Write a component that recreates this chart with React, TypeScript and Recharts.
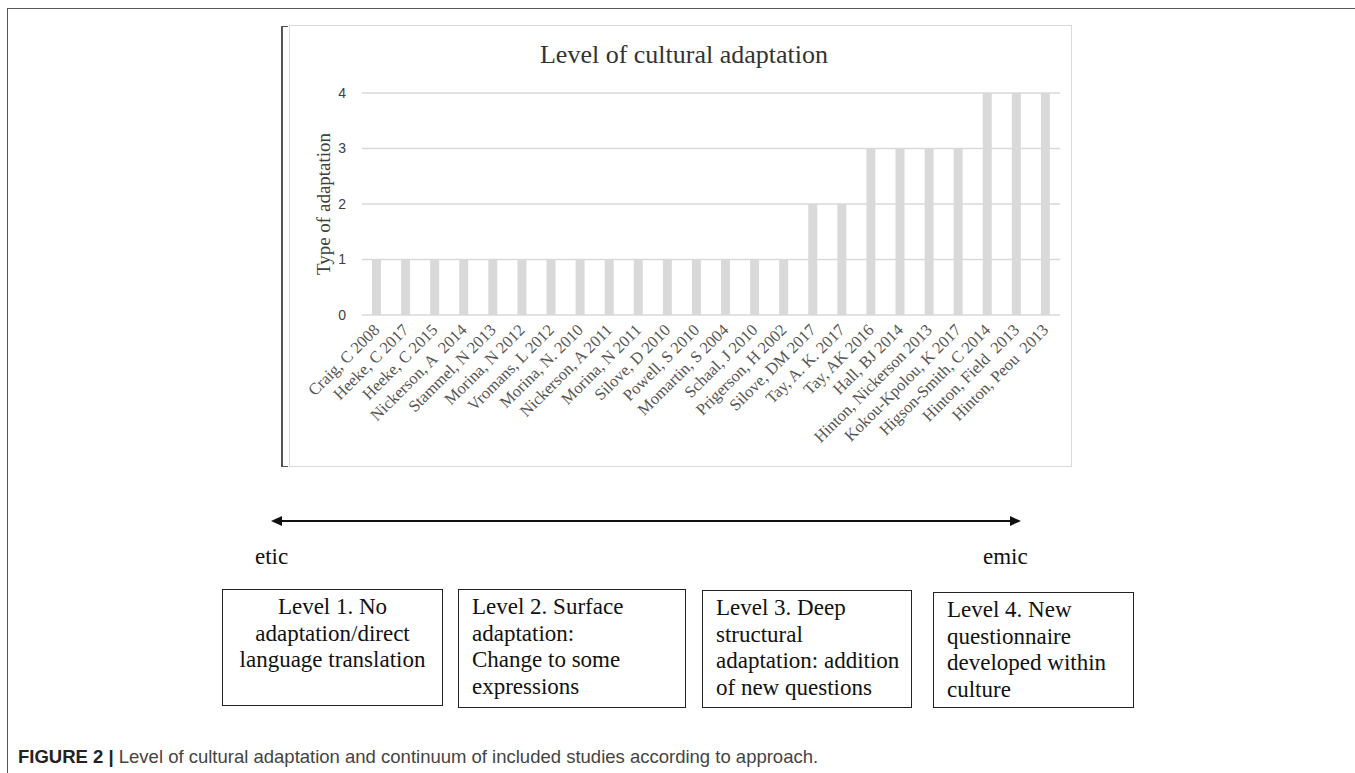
import { BarChart, Bar, XAxis, YAxis, CartesianGrid } from "recharts";

const studies = [
  "Craig, C 2008",
  "Heeke, C 2017",
  "Heeke, C 2015",
  "Nickerson, A\u00a0 2014",
  "Stammel, N 2013",
  "Morina, N 2012",
  "Vromans, L 2012",
  "Morina, N. 2010",
  "Nickerson, A 2011",
  "Morina, N 2011",
  "Silove, D 2010",
  "Powell, S 2010",
  "Momartin, S 2004",
  "Schaal, J 2010",
  "Prigerson, H 2002",
  "Silove, DM 2017",
  "Tay, A. K. 2017",
  "Tay, AK 2016",
  "Hall, BJ 2014",
  "Hinton, Nickerson 2013",
  "Kokou-Kpolou, K 2017",
  "Higson-Smith, C 2014",
  "Hinton, Field\u00a0 2013",
  "Hinton, Peou\u00a0 2013",
];

const adaptationType = [1, 1, 1, 1, 1, 1, 1, 1, 1, 1, 1, 1, 1, 1, 1, 2, 2, 3, 3, 3, 3, 4, 4, 4];

const yTicks = [0, 1, 2, 3, 4];

const levels = [
  { lines: ["Level 1. No", "adaptation/direct", "language translation"], align: "center" },
  { lines: ["Level 2. Surface", "adaptation:", "Change to some", "expressions"], align: "left" },
  { lines: ["Level 3. Deep", "structural", "adaptation: addition", "of new questions"], align: "left" },
  { lines: ["Level 4. New", "questionnaire", "developed within", "culture"], align: "left" },
];

const data = studies.map((name, i) => ({ name, value: adaptationType[i] }));

const serif = "'Liberation Serif', 'Times New Roman', serif";

// box placement on the page
const boxPos = [
  { left: 222, top: 589, width: 221, height: 117 },
  { left: 458, top: 589, width: 228, height: 119 },
  { left: 702, top: 590, width: 210, height: 118 },
  { left: 933, top: 592, width: 201, height: 116 },
];

const AngledTick = (props: any) => {
  const { x, y, payload } = props;
  return (
    <g transform={`translate(${x + 4},${y + 8})`}>
      <text textAnchor="end" transform="rotate(-45)" fontFamily={serif} fontSize={16.5} fill="#555">
        {payload.value}
      </text>
    </g>
  );
};

export default function App() {
  return (
    <div style={{ position: "absolute", left: 0, top: 0, width: 1355, height: 773, background: "#fff", overflow: "hidden" }}>
      {/* figure frame */}
      <div style={{ position: "absolute", left: 7, top: 8, width: 1348, height: 770, borderTop: "1px solid #555", borderLeft: "1px solid #555" }} />

      {/* bracket + chart border */}
      <div style={{ position: "absolute", left: 281, top: 26, width: 7, height: 441, borderLeft: "2px solid #555", borderTop: "1.5px solid #555", borderBottom: "1.5px solid #555", boxSizing: "border-box" }} />
      <div style={{ position: "absolute", left: 289, top: 25, width: 783, height: 442, border: "1px solid #d9d9d9", boxSizing: "border-box" }} />

      <div style={{ position: "absolute", left: 289, top: 25 }}>
        <BarChart width={783} height={442} data={data} margin={{ top: 68, right: 12, bottom: 0, left: 0 }}>
          <CartesianGrid vertical={false} stroke="#d9d9d9" strokeWidth={1.5} />
          <XAxis
            dataKey="name"
            interval={0}
            axisLine={false}
            tickLine={false}
            height={152}
            tick={<AngledTick />}
          />
          <YAxis
            domain={[0, 4]}
            ticks={yTicks}
            axisLine={false}
            tickLine={false}
            width={73}
            tickMargin={10}
            tick={{ fontFamily: "'Liberation Sans', Arial, sans-serif", fontSize: 14, fill: "#404040" }}
            label={{
              value: "Type of adaptation",
              angle: -90,
              position: "insideLeft",
              offset: 34,
              style: { textAnchor: "middle", fontFamily: serif, fontSize: 19, fill: "#404040" },
            }}
          />
          <Bar dataKey="value" fill="#d9d9d9" barSize={9} isAnimationActive={false} />
        </BarChart>
      </div>

      <div style={{ position: "absolute", left: 289, width: 790, top: 40, textAlign: "center", fontFamily: serif, fontSize: 26, color: "#333" }}>
        Level of cultural adaptation
      </div>

      {/* etic / emic continuum */}
      <svg style={{ position: "absolute", left: 0, top: 0 }} width={1355} height={773}>
        <line x1={280} y1={521} x2={1012} y2={521} stroke="#111" strokeWidth={2} />
        <polygon points="271,521 282,516 282,526" fill="#111" />
        <polygon points="1021,521 1010,516 1010,526" fill="#111" />
      </svg>
      <div style={{ position: "absolute", left: 255, top: 544, fontFamily: serif, fontSize: 23, color: "#111" }}>etic</div>
      <div style={{ position: "absolute", left: 983, top: 544, fontFamily: serif, fontSize: 23, color: "#111" }}>emic</div>

      {levels.map((lv, i) => (
        <div
          key={i}
          style={{
            position: "absolute",
            ...boxPos[i],
            border: "1.5px solid #222",
            boxSizing: "border-box",
            padding: i === 0 ? "4px 4px" : "4px 13px",
            fontFamily: serif,
            fontSize: 23,
            lineHeight: "26.5px",
            color: "#111",
            textAlign: lv.align as any,
            whiteSpace: "nowrap",
          }}
        >
          {lv.lines.map((l, j) => (
            <div key={j}>{l}</div>
          ))}
        </div>
      ))}

      <div style={{ position: "absolute", left: 18, top: 746, fontFamily: "'Liberation Sans', Arial, sans-serif", fontSize: 18.5, color: "#444", whiteSpace: "nowrap" }}>
        <b style={{ color: "#222" }}>FIGURE 2 |</b> Level of cultural adaptation and continuum of included studies according to approach.
      </div>
    </div>
  );
}
